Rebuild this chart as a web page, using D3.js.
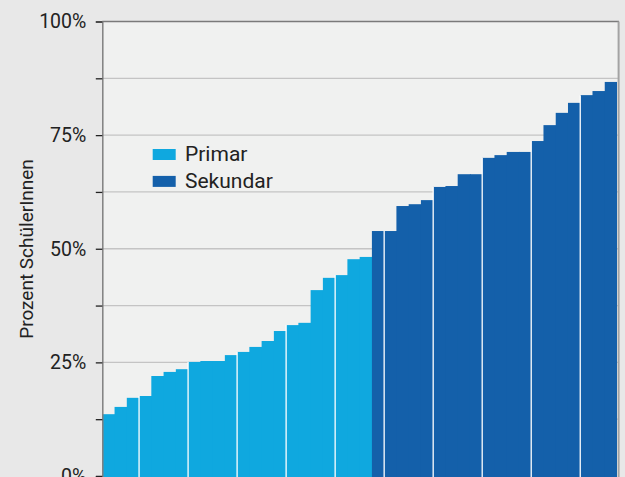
<!DOCTYPE html>
<html>
<head>
<meta charset="utf-8">
<script src="https://cdn.jsdelivr.net/npm/d3@7"></script>
<style>
  body { margin: 0; background: #e8e8e8; }
  text { font-family: Roboto, "Open Sans", sans-serif; fill: #222; }
</style>
</head>
<body>
<div id="chart"></div>
<script>
// data (share of pupils, in %)
var primar = [13.6, 15.2, 17.2, 17.6, 22.0, 22.9, 23.5, 25.1, 25.3, 25.3, 26.6,
              27.3, 28.4, 29.7, 31.9, 33.2, 33.7, 40.9, 43.6, 44.2, 47.7, 48.2];
var sekundar = [53.9, 53.9, 59.4, 59.8, 60.7, 63.6, 63.8, 66.4, 66.4, 70.0,
                70.6, 71.3, 71.3, 73.7, 77.2, 79.9, 82.1, 83.8, 84.7, 86.7];
var seriesNames = ["Primar", "Sekundar"];
var seriesColors = ["#0fa8df", "#1460aa"];
var yTicks = [0, 12.5, 25, 37.5, 50, 62.5, 75, 87.5, 100];
var yLabelTicks = [0, 25, 50, 75, 100];

let data = [];
primar.forEach(v => data.push({ value: v, group: 0 }));
sekundar.forEach(v => data.push({ value: v, group: 1 }));

var width = 625,
    height = 477,
    margin = {top: 21.5, right: 8, bottom: 1, left: 102.3};

var svg = d3.select("#chart")
    .append("svg")
    .attr("width", width)
    .attr("height", height);

// Set X
const x = d3.scaleBand()
    .domain(d3.range(data.length))
    .range([margin.left, 617])
    .padding(0);

// Set Y
const y = d3.scaleLinear()
    .domain([0, 100])
    .range([476, margin.top]);

// plot background
svg.append("rect")
    .attr("x", margin.left)
    .attr("y", margin.top)
    .attr("width", 618.5 - margin.left)
    .attr("height", height - margin.top + 5)
    .attr("fill", "#f0f1f0");

// gridlines
svg.append("g")
    .selectAll("line")
    .data(yTicks.filter(d => d > 0 && d < 100))
    .join("line")
    .attr("x1", margin.left)
    .attr("x2", 618)
    .attr("y1", d => y(d))
    .attr("y2", d => y(d))
    .attr("stroke", "#c4c4c4")
    .attr("stroke-width", 1.3);

// bars (slight overlap so no seams show between neighbours)
svg.append("g")
    .selectAll("rect")
    .data(data)
    .join("rect")
    .attr("x", (d, i) => x(i))
    .attr("y", d => y(d.value))
    .attr("width", (d, i) => x.bandwidth() + (i < data.length - 1 ? 0.8 : 0))
    .attr("height", d => y(0) - y(d.value) + 5)
    .attr("fill", d => seriesColors[d.group]);

// white separators every four bars
svg.append("g")
    .selectAll("line")
    .data(d3.range(3, data.length, 4))
    .join("line")
    .attr("x1", i => x(i))
    .attr("x2", i => x(i))
    .attr("y1", height + 5)
    .attr("y2", i => y(Math.max(data[i - 1].value, data[i].value)))
    .attr("stroke", "#fff")
    .attr("stroke-width", 1.3);

// frame: top and right
svg.append("line")
    .attr("x1", margin.left).attr("x2", 619)
    .attr("y1", margin.top).attr("y2", margin.top)
    .attr("stroke", "#7a7a7a").attr("stroke-width", 1.3);
svg.append("line")
    .attr("x1", 618.6).attr("x2", 618.6)
    .attr("y1", margin.top).attr("y2", height + 5)
    .attr("stroke", "#a3a3a3").attr("stroke-width", 2);

// y axis
function yAxis(g) {
    g.attr("transform", `translate(${margin.left}, 0)`)
        .call(d3.axisLeft(y)
            .tickValues(yTicks)
            .tickSize(6.5)
            .tickPadding(9.5)
            .tickFormat(d => yLabelTicks.includes(d) ? d + "%" : ""))
        .attr("font-size", "19.5px")
        .attr("font-family", "Roboto, sans-serif");
    g.select(".domain").attr("stroke", "#808080").attr("stroke-width", 1.5);
    g.selectAll(".tick line").attr("stroke", "#222").attr("stroke-width", 1.3);
    g.selectAll(".tick text").attr("fill", "#222");
}
svg.append("g").call(yAxis);

// y axis title
svg.append("text")
    .attr("transform", "translate(33, 249) rotate(-90)")
    .attr("text-anchor", "middle")
    .attr("font-size", "19px")
    .text("Prozent SchülerInnen");

// legend
var legend = svg.append("g")
    .selectAll("g")
    .data(seriesNames)
    .join("g")
    .attr("transform", (d, i) => `translate(152.7, ${149 + i * 26.9})`);
legend.append("rect")
    .attr("width", 23)
    .attr("height", 11)
    .attr("fill", (d, i) => seriesColors[i]);
legend.append("text")
    .attr("x", 32.3)
    .attr("y", 12.3)
    .attr("font-size", "21px")
    .text(d => d);
</script>
</body>
</html>
